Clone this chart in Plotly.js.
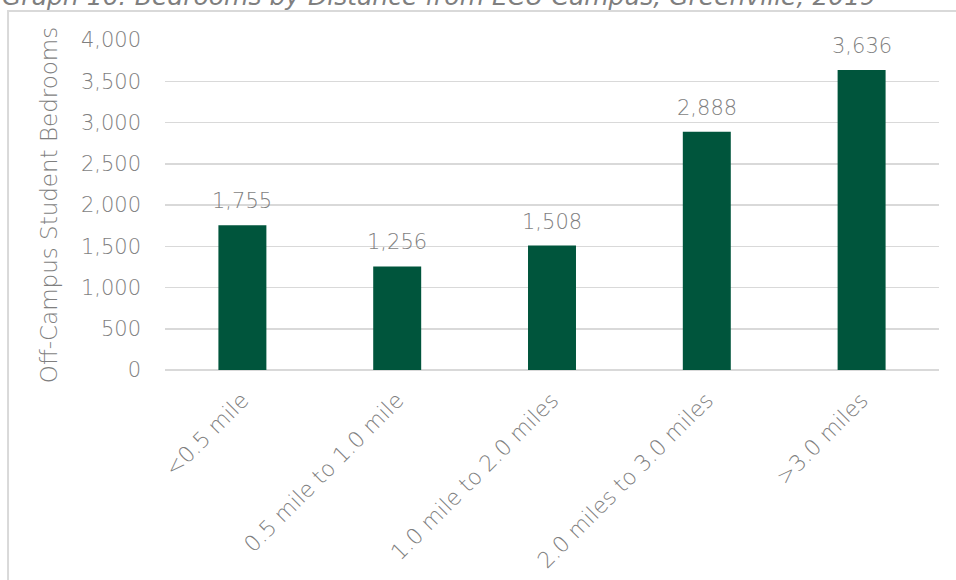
<!DOCTYPE html>
<html>
<head>
<meta charset="utf-8">
<script src="https://cdn.plot.ly/plotly-3.0.1.min.js"></script>
<style>
html,body{margin:0;padding:0;background:#fff;}
#chart{width:956px;height:580px;}
</style>
</head>
<body>
<div id="chart"></div>
<script>
const categories = ["<0.5 mile", "0.5 mile to 1.0 mile", "1.0 mile to 2.0 miles", "2.0 miles to 3.0 miles", ">3.0 miles"];
const bedrooms = [1755, 1256, 1508, 2888, 3636];
const yTickVals = [0, 500, 1000, 1500, 2000, 2500, 3000, 3500, 4000];
const chartTitle = "Graph 16: Bedrooms by Distance from ECU Campus, Greenville, 2019";
const yTitle = "Off-Campus Student Bedrooms";

const FONT = "'DejaVu Sans', sans-serif";
const GREY = "#7f7f7f";
const fmt = v => v.toLocaleString("en-US");

const trace = {
  type: "bar",
  x: categories,
  y: bedrooms,
  marker: {color: "#00553c"},
  hoverinfo: "none"
};

const labelAnns = categories.map((c, i) => ({
  x: c, y: bedrooms[i], xref: "x", yref: "y",
  text: fmt(bedrooms[i]), showarrow: false,
  yanchor: "bottom", yshift: 10,
  font: {family: FONT, size: 21, color: GREY, weight: 300}
}));

const layout = {
  width: 956, height: 580,
  margin: {l: 165, r: 17, t: 40, b: 210},
  paper_bgcolor: "#fff", plot_bgcolor: "#fff",
  showlegend: false,
  bargap: 0.69,
  font: {family: FONT, color: GREY},
  xaxis: {
    type: "category",
    tickangle: -45,
    tickfont: {family: FONT, size: 22, color: GREY, weight: 300},
    ticklabelstandoff: 12,
    showgrid: false, zeroline: false,
    showline: false, ticks: "", fixedrange: true
  },
  yaxis: {
    range: [0, 4000],
    tickvals: yTickVals,
    ticktext: yTickVals.map(fmt),
    tickfont: {family: FONT, size: 21, color: GREY, weight: 300},
    ticklabelstandoff: 23,
    gridcolor: "#d9d9d9", gridwidth: 1.5,
    zeroline: true, zerolinecolor: "#d9d9d9", zerolinewidth: 1.5,
    showline: false, ticks: "", fixedrange: true,
    title: {text: yTitle, font: {family: FONT, size: 23, color: GREY, weight: 300}, standoff: 16}
  },
  annotations: labelAnns.concat([{
    xref: "paper", yref: "paper", x: -0.213, y: 1.0879,
    xanchor: "left", yanchor: "bottom", yshift: -2,
    text: "<i>" + chartTitle + "</i>", showarrow: false,
    font: {family: FONT, size: 25, color: GREY, weight: 300}
  }]),
  shapes: [{
    type: "rect", xref: "paper", yref: "paper",
    x0: -0.2028, x1: 1.1, y0: -0.7, y1: 1.0879,
    line: {color: "#d9d9d9", width: 2}, fillcolor: "rgba(0,0,0,0)", layer: "below"
  }]
};

Plotly.newPlot("chart", [trace], layout, {displayModeBar: false, staticPlot: true});
</script>
</body>
</html>
